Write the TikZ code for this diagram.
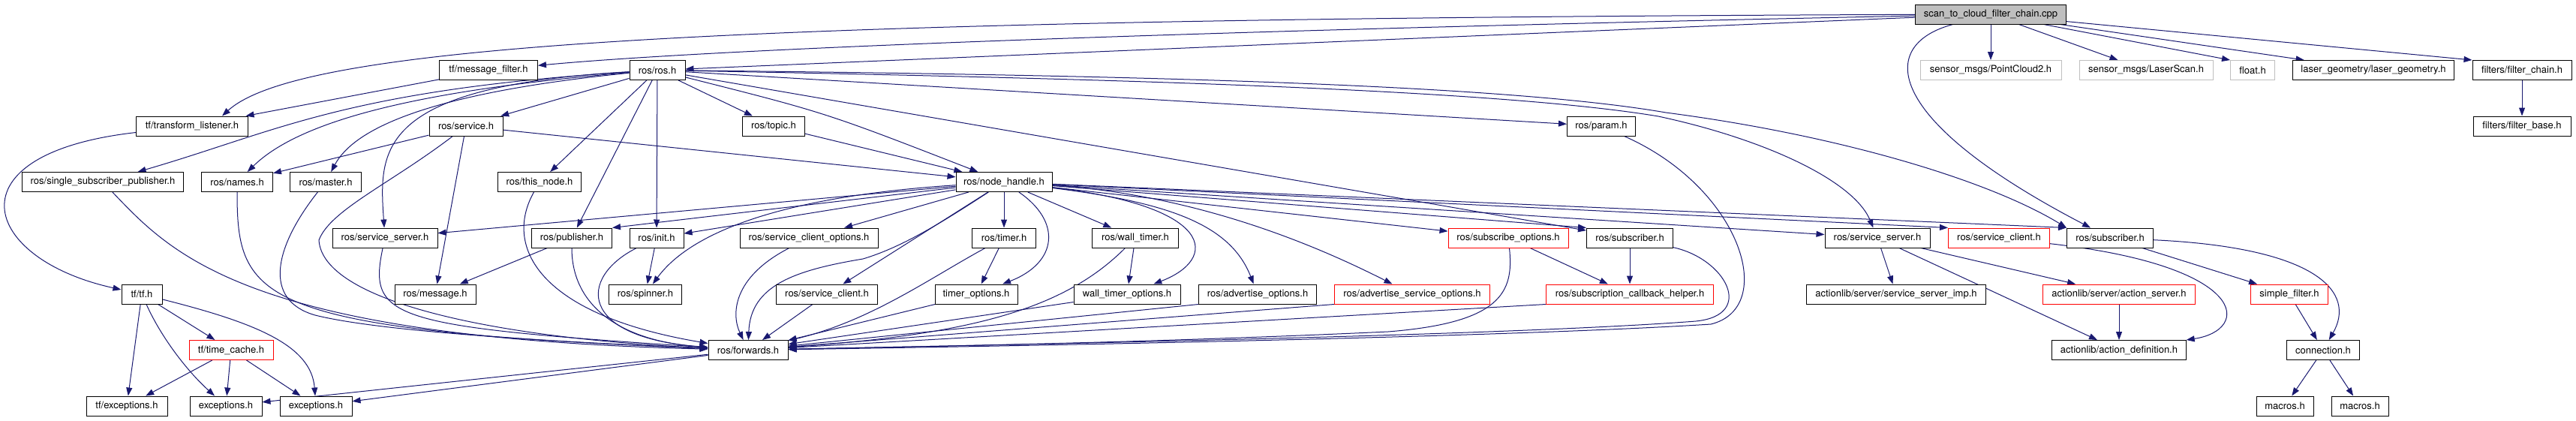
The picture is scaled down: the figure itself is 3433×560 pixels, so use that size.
\documentclass[tikz,border=0pt]{standalone}
\usepackage{fontspec}
\setmainfont{TeX Gyre Heros}
\usetikzlibrary{arrows.meta}
\definecolor{edgeblue}{RGB}{25,25,112}
\definecolor{nodegrey}{RGB}{191,191,191}
\pgfdeclarelayer{edges}
\pgfsetlayers{edges,main}
\begin{document}
\begin{tikzpicture}[x=1pt,y=-1pt,
  hdr/.style={draw=black,fill=white,line width=1pt,minimum height=26pt,inner sep=0pt,font=\fontsize{13}{15}\selectfont},
  hdrred/.style={hdr,draw=red},
  hdrgrey/.style={hdr,draw=nodegrey},
  hdrroot/.style={hdr,fill=nodegrey},
  dep/.style={draw=edgeblue,line width=1pt,-{Triangle[length=11pt,width=8pt]}}]
  \useasboundingbox (0,0) rectangle (3433,560);
  \node[hdrroot, minimum width=201pt] (cpp) at (2653,19) {scan\_to\_cloud\_filter\_chain.cpp};
  \node[hdr, minimum width=131pt] (msgfilter) at (651,93.5) {tf/message\_filter.h};
  \node[hdr, minimum width=74pt] (ros) at (876,93.5) {ros/ros.h};
  \node[hdrgrey, minimum width=188pt] (pc2) at (2653,93.5) {sensor\_msgs/PointCloud2.h};
  \node[hdrgrey, minimum width=178pt] (lscan) at (2860,93.5) {sensor\_msgs/LaserScan.h};
  \node[hdrgrey, minimum width=59pt] (float) at (3002,93.5) {float.h};
  \node[hdr, minimum width=215pt] (lgeom) at (3163,93.5) {laser\_geometry/laser\_geometry.h};
  \node[hdr, minimum width=132pt] (fchain) at (3361,93.5) {filters/filter\_chain.h};
  \node[hdr, minimum width=149pt] (tlisten) at (256,168) {tf/transform\_listener.h};
  \node[hdr, minimum width=98pt] (service) at (621,168) {ros/service.h};
  \node[hdr, minimum width=83pt] (topic) at (1031,168) {ros/topic.h};
  \node[hdr, minimum width=91pt] (param) at (2134,168) {ros/param.h};
  \node[hdr, minimum width=130pt] (fbase) at (3361,168) {filters/filter\_base.h};
  \node[hdr, minimum width=215pt] (ssp) at (137,242.5) {ros/single\_subscriber\_publisher.h};
  \node[hdr, minimum width=95pt] (names) at (316,242.5) {ros/names.h};
  \node[hdr, minimum width=95pt] (master) at (434,242.5) {ros/master.h};
  \node[hdr, minimum width=111pt] (thisnode) at (719,242.5) {ros/this\_node.h};
  \node[hdr, minimum width=128pt] (nh) at (1338,242.5) {ros/node\_handle.h};
  \node[hdr, minimum width=140pt] (srvserver) at (513,317) {ros/service\_server.h};
  \node[hdr, minimum width=107pt] (publisher) at (762,317) {ros/publisher.h};
  \node[hdr, minimum width=72pt] (init) at (875,317) {ros/init.h};
  \node[hdr, minimum width=184pt] (sco) at (1078,317) {ros/service\_client\_options.h};
  \node[hdr, minimum width=85pt] (timer) at (1338,317) {ros/timer.h};
  \node[hdr, minimum width=115pt] (walltimer) at (1513,317) {ros/wall\_timer.h};
  \node[hdrred, minimum width=160pt] (subopts) at (2010,317) {ros/subscribe\_options.h};
  \node[hdr, minimum width=115pt] (subscriber) at (2172,317) {ros/subscriber.h};
  \node[hdr, minimum width=140pt] (srvserver2) at (2502,317) {ros/service\_server.h};
  \node[hdrred, minimum width=135pt] (srvclient2) at (2664,317) {ros/service\_client.h};
  \node[hdr, minimum width=115pt] (subscriber2) at (2812,317) {ros/subscriber.h};
  \node[hdr, minimum width=54pt] (tf) at (189,392) {tf/tf.h};
  \node[hdr, minimum width=108pt] (message) at (580,392) {ros/message.h};
  \node[hdr, minimum width=97pt] (spinner) at (860,392) {ros/spinner.h};
  \node[hdr, minimum width=135pt] (srvclient) at (1102,392) {ros/service\_client.h};
  \node[hdr, minimum width=110pt] (timeropts) at (1301,392) {timer\_options.h};
  \node[hdr, minimum width=142pt] (wtopts) at (1502,392) {wall\_timer\_options.h};
  \node[hdr, minimum width=157pt] (advopts) at (1676,392) {ros/advertise\_options.h};
  \node[hdrred, minimum width=207pt] (advsrvopts) at (1882,392) {ros/advertise\_service\_options.h};
  \node[hdrred, minimum width=223pt] (sch) at (2172,392) {ros/subscription\_callback\_helper.h};
  \node[hdr, minimum width=239pt] (ssimp) at (2527,392) {actionlib/server/service\_server\_imp.h};
  \node[hdrred, minimum width=203pt] (actserver) at (2824,392) {actionlib/server/action\_server.h};
  \node[hdrred, minimum width=103pt] (simplefilter) at (3051,392) {simple\_filter.h};
  \node[hdrred, minimum width=112pt] (timecache) at (308,466.5) {tf/time\_cache.h};
  \node[hdr, minimum width=106pt] (forwards) at (997,466.5) {ros/forwards.h};
  \node[hdr, minimum width=179pt] (actdef) at (2824,466.5) {actionlib/action\_definition.h};
  \node[hdr, minimum width=97pt] (connection) at (3096,466.5) {connection.h};
  \node[hdr, minimum width=108pt] (tfexc) at (169,541) {tf/exceptions.h};
  \node[hdr, minimum width=96pt] (exc1) at (301,541) {exceptions.h};
  \node[hdr, minimum width=96pt] (exc2) at (421,541) {exceptions.h};
  \node[hdr, minimum width=76pt] (macros1) at (3045,541) {macros.h};
  \node[hdr, minimum width=76pt] (macros2) at (3145,541) {macros.h};
  \begin{pgfonlayer}{edges}
  \draw[dep] (cpp) .. controls (950,25) and (400,60) .. ([xshift=40pt]tlisten.north);
  \draw[dep] (cpp) .. controls (1400,45) and (900,70) .. (msgfilter);
  \draw[dep] (cpp) -- (ros);
  \draw[dep] (cpp) -- (pc2);
  \draw[dep] (cpp) -- (lscan);
  \draw[dep] (cpp) -- (float.north west);
  \draw[dep] (cpp) -- (lgeom);
  \draw[dep] (cpp) -- (fchain.north west);
  \draw[dep] (cpp) .. controls (2500,60) and (2510,160) .. (subscriber2);
  \draw[dep] (msgfilter) -- (tlisten);
  \draw[dep] (fchain) -- (fbase);
  \draw[dep] (tlisten) .. controls (-70,205) and (-25,345) .. (tf);
  \draw[dep] (tf) -- (tfexc);
  \draw[dep] (tf) .. controls (215,450) and (250,495) .. (exc1);
  \draw[dep] (tf) -- (timecache);
  \draw[dep] (tf) .. controls (340,430) and (415,460) .. (exc2);
  \draw[dep] (timecache) -- (tfexc);
  \draw[dep] (timecache) -- (exc1);
  \draw[dep] (timecache) -- (exc2);
  \draw[dep] (forwards) -- (exc1);
  \draw[dep] (forwards) -- (exc2);
  \draw[dep] (ros) -- (service);
  \draw[dep] (ros) -- (thisnode);
  \draw[dep] (ros) -- (topic);
  \draw[dep] (ros) .. controls (1100,150) .. (nh);
  \draw[dep] (ros) -- (param);
  \draw[dep] (ros) -- (subscriber);
  \draw[dep] (ros) -- (publisher);
  \draw[dep] (ros) -- (init);
  \draw[dep] (ros) .. controls (460,120) and (370,175) .. (ssp);
  \draw[dep] (ros) .. controls (560,120) and (400,160) .. (names);
  \draw[dep] (ros) .. controls (560,125) and (470,175) .. (master);
  \draw[dep] (ros) .. controls (500,115) and (505,200) .. (srvserver);
  \draw[dep] (ros) .. controls (1500,100) and (2000,112) .. (2220,150) .. controls (2450,180) and (2650,240) .. (subscriber2.north west);
  \draw[dep] (ros) .. controls (1500,105) and (2000,120) .. (2210,155) .. controls (2350,185) and (2470,240) .. (srvserver2);
  \draw[dep] (service) -- (nh);
  \draw[dep] (service) -- (names);
  \draw[dep] (service) -- (message);
  \draw[dep] (service) .. controls (520,245) and (440,280) .. (425,320) .. controls (430,400) and (650,450) .. (forwards);
  \draw[dep] (topic) -- (nh);
  \draw[dep] (thisnode) .. controls (670,330) and (720,420) .. (forwards);
  \draw[dep] (param) .. controls (2320,250) and (2370,410) .. (2280,432) .. controls (2000,450) and (1300,462) .. (forwards);
  \draw[dep] (ssp) .. controls (230,340) and (330,450) .. (forwards);
  \draw[dep] (names) .. controls (316,400) and (340,440) .. (forwards);
  \draw[dep] (master) .. controls (365,330) and (350,400) .. (420,420) .. controls (520,445) and (800,458) .. (forwards);
  \draw[dep] (srvserver) .. controls (490,425) and (520,435) .. (forwards);
  \draw[dep] (publisher) -- (message);
  \draw[dep] (publisher) .. controls (762,410) and (830,455) .. (forwards);
  \draw[dep] (init) -- (spinner);
  \draw[dep] (init) .. controls (770,370) and (770,450) .. (forwards);
  \draw[dep] (sco) .. controls (975,370) and (975,420) .. (forwards);
  \draw[dep] (srvclient) -- (forwards);
  \draw[dep] (nh) -- (srvserver);
  \draw[dep] (nh) -- (publisher.north east);
  \draw[dep] (nh) -- (init);
  \draw[dep] (nh) .. controls (1040,262) and (920,310) .. (spinner);
  \draw[dep] (nh) -- (sco);
  \draw[dep] (nh) -- (srvclient);
  \draw[dep] (nh) .. controls (1250,300) and (1200,330) .. (1150,345) .. controls (1060,360) and (1000,380) .. (forwards);
  \draw[dep] (nh) -- (timer);
  \draw[dep] (nh) .. controls (1415,295) and (1410,350) .. (timeropts);
  \draw[dep] (nh) -- (walltimer);
  \draw[dep] (nh) .. controls (1620,275) and (1625,345) .. (wtopts);
  \draw[dep] (nh) .. controls (1560,270) and (1640,300) .. (advopts);
  \draw[dep] (nh) .. controls (1600,260) and (1760,330) .. (advsrvopts);
  \draw[dep] (nh) -- (subopts);
  \draw[dep] (nh) -- (subscriber.north west);
  \draw[dep] (nh) -- (srvserver2);
  \draw[dep] (nh) -- (srvclient2.north west);
  \draw[dep] (nh) -- (subscriber2.north west);
  \draw[dep] (timer) -- (timeropts);
  \draw[dep] (timer) .. controls (1240,370) and (1160,428) .. (forwards);
  \draw[dep] (timeropts) -- (forwards);
  \draw[dep] (walltimer) -- (wtopts);
  \draw[dep] (walltimer) .. controls (1420,410) and (1300,445) .. (forwards);
  \draw[dep] (wtopts) -- (forwards);
  \draw[dep] (advopts.south west) -- (forwards);
  \draw[dep] (advsrvopts.south west) -- (forwards);
  \draw[dep] (sch.south west) -- (forwards);
  \draw[dep] (subopts) -- (sch);
  \draw[dep] (subopts) .. controls (2018,390) and (2000,430) .. (1850,442) .. controls (1500,458) and (1200,462) .. (forwards);
  \draw[dep] (subscriber) -- (sch);
  \draw[dep] (subscriber) .. controls (2300,345) and (2340,420) .. (2260,428) .. controls (2000,448) and (1300,460) .. (forwards);
  \draw[dep] (srvserver2) -- (ssimp);
  \draw[dep] (srvserver2) -- (actserver);
  \draw[dep] (srvserver2) -- (actdef);
  \draw[dep] (actserver) -- (actdef);
  \draw[dep] (srvclient2) .. controls (3000,355) and (3000,440) .. (actdef);
  \draw[dep] (subscriber2) -- (simplefilter);
  \draw[dep] (subscriber2) .. controls (3090,330) and (3140,390) .. (connection);
  \draw[dep] (simplefilter) -- (connection);
  \draw[dep] (connection) -- (macros1);
  \draw[dep] (connection) -- (macros2);
  \end{pgfonlayer}
\end{tikzpicture}
\end{document}
